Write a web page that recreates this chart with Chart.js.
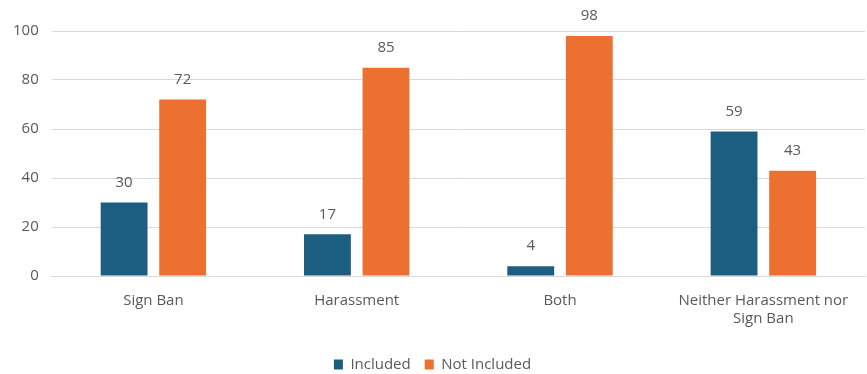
<!DOCTYPE html>
<html><head><meta charset="utf-8">
<script src="https://cdn.jsdelivr.net/npm/chart.js@4/dist/chart.umd.min.js"></script>
<style>html,body{margin:0;padding:0;background:#fff}#wrap{width:867px;height:374px}</style>
</head><body><div id="wrap"><canvas id="c"></canvas></div>
<script>
const categories = ['Sign Ban', 'Harassment', 'Both', ['Neither Harassment nor', 'Sign Ban']];
const seriesNames = ['Included', 'Not Included'];
const included = [30, 17, 4, 59];
const notIncluded = [72, 85, 98, 43];
const yTicks = [0, 20, 40, 60, 80, 100];

const FONT = '"Open Sans", sans-serif';
const labelPlugin = {
  id: 'barLabels',
  afterDatasetsDraw(chart) {
    const ctx = chart.ctx;
    ctx.save();
    ctx.font = '15px ' + FONT;
    ctx.fillStyle = '#595959';
    ctx.textAlign = 'center';
    ctx.textBaseline = 'middle';
    chart.data.datasets.forEach((ds, i) => {
      chart.getDatasetMeta(i).data.forEach((bar, j) => {
        ctx.fillText(String(ds.data[j]), bar.x, bar.y - 20);
      });
    });
    ctx.restore();
  }
};
const legendShift = {
  id: 'legendShift',
  beforeInit(chart) {
    const lg = chart.legend;
    if (!lg) return;
    const orig = lg.fit;
    lg.fit = function () { orig.call(this); this.height -= 8; };
  }
};

new Chart(document.getElementById('c'), {
  type: 'bar',
  data: {
    labels: categories,
    datasets: [
      { label: seriesNames[0], data: included, backgroundColor: '#1B5E80', categoryPercentage: 0.576, barPercentage: 0.8 },
      { label: seriesNames[1], data: notIncluded, backgroundColor: '#EC7030', categoryPercentage: 0.576, barPercentage: 0.8 }
    ]
  },
  options: {
    responsive: true,
    maintainAspectRatio: false,
    animation: false,
    layout: { padding: { top: 31, right: 2, left: 0, bottom: 0 } },
    plugins: {
      legend: {
        position: 'bottom',
        labels: { boxWidth: 9, boxHeight: 10, padding: 14, font: { family: FONT, size: 15 }, color: '#595959' }
      },
      tooltip: { enabled: false }
    },
    scales: {
      x: {
        grid: { display: false },
        border: { color: '#d9d9d9' },
        ticks: { font: { family: FONT, size: 15 }, color: '#595959', padding: 8, maxRotation: 0 },
        afterFit(s) { s.height += 7; }
      },
      y: {
        min: 0, max: 100,
        afterBuildTicks(s) { s.ticks = yTicks.map(v => ({ value: v })); },
        grid: { color: '#d9d9d9', lineWidth: 1, drawTicks: false },
        border: { display: false },
        ticks: { font: { family: FONT, size: 15 }, color: '#595959', padding: 13 }
      }
    }
  },
  plugins: [labelPlugin, legendShift]
});
</script></body></html>
